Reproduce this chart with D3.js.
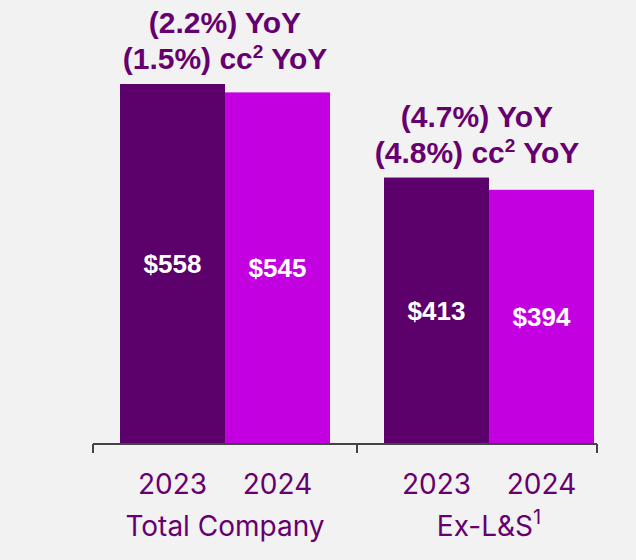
<!DOCTYPE html>
<html>
<head>
<meta charset="utf-8">
<script src="https://cdn.jsdelivr.net/npm/d3@7.9.0/dist/d3.min.js"></script>
<style>
  body { margin: 0; background: #f2f2f2; }
  svg { display: block; font-family: "Liberation Sans", Arial, sans-serif; }
</style>
</head>
<body>
<svg id="chart" width="636" height="560"></svg>
<script>
// data
const groups = ['Total Company', 'Ex-L&S'];
const years = ['2023', '2024'];
const values2023 = [558, 413];
const values2024 = [545, 394];
const yoyLabels = ['(2.2%) YoY', '(4.7%) YoY'];
const ccLabels = ['(1.5%)', '(4.8%)'];

const colors = { '2023': '#5c006b', '2024': '#c300e0' };
const textColor = '#660070';

const svg = d3.select('#chart');

const x0 = d3.scaleBand().domain(groups).range([93, 621]);
const x1 = d3.scaleBand().domain(years).range([27, 237]);
const y = d3.scaleLinear().domain([0, 620]).range([444, 44]);

const rows = groups.map((g, i) => ({
  group: g,
  bars: [
    { year: '2023', value: values2023[i] },
    { year: '2024', value: values2024[i] }
  ]
}));

const g = svg.selectAll('g.group')
  .data(rows)
  .join('g')
  .attr('class', 'group')
  .attr('transform', d => `translate(${x0(d.group)},0)`);

g.selectAll('rect')
  .data(d => d.bars)
  .join('rect')
  .attr('x', d => x1(d.year))
  .attr('y', d => y(d.value))
  .attr('width', x1.bandwidth())
  .attr('height', d => y(0) - y(d.value))
  .attr('fill', d => colors[d.year]);

// value labels inside bars
g.selectAll('text.val')
  .data(d => d.bars)
  .join('text')
  .attr('class', 'val')
  .attr('x', d => x1(d.year) + x1.bandwidth() / 2)
  .attr('y', d => (y(d.value) + y(0)) / 2 + 9)
  .attr('text-anchor', 'middle')
  .attr('fill', '#fff')
  .attr('font-weight', 'bold')
  .attr('font-size', 26)
  .text(d => '$' + d.value);

// year tick labels
g.selectAll('text.year')
  .data(d => d.bars)
  .join('text')
  .attr('class', 'year')
  .attr('x', d => x1(d.year) + x1.bandwidth() / 2)
  .attr('y', 494)
  .attr('text-anchor', 'middle')
  .attr('fill', textColor)
  .attr('font-size', 28)
  .attr('font-family', 'Inter, sans-serif')
  .text(d => d.year);

// group labels
const gl = g.append('text')
  .attr('x', x0.bandwidth() / 2)
  .attr('y', 536)
  .attr('text-anchor', 'middle')
  .attr('fill', textColor)
  .attr('font-size', 28)
  .attr('font-family', 'Inter, sans-serif')
  .text(d => d.group);
gl.filter(d => d.group === 'Ex-L&S')
  .append('tspan')
  .attr('dy', -12)
  .attr('font-size', 20)
  .text('1');

// YoY annotations above bars
g.append('text')
  .attr('x', (d, i) => x0.bandwidth() / 2 - i * 12)
  .attr('y', d => y(d.bars[0].value) - 51)
  .attr('text-anchor', 'middle')
  .attr('fill', textColor)
  .attr('font-weight', 'bold')
  .attr('font-size', 30)
  .text((d, i) => yoyLabels[i]);

const cc = g.append('text')
  .attr('x', (d, i) => x0.bandwidth() / 2 - i * 12)
  .attr('y', d => y(d.bars[0].value) - 15)
  .attr('text-anchor', 'middle')
  .attr('fill', textColor)
  .attr('font-weight', 'bold')
  .attr('font-size', 30);
cc.append('tspan').text((d, i) => ccLabels[i] + ' cc');
cc.append('tspan').attr('dy', -11).attr('font-size', 19).text('2');
cc.append('tspan').attr('dy', 11).text(' YoY');

// axis
const axis = svg.append('g').attr('stroke', '#444').attr('stroke-width', 2).attr('fill', 'none');
axis.append('line').attr('x1', 93).attr('x2', 597).attr('y1', 444).attr('y2', 444);
[93, x0('Ex-L&S'), 597].forEach(t => {
  axis.append('line').attr('x1', t).attr('x2', t).attr('y1', 444).attr('y2', 453);
});
</script>
</body>
</html>
